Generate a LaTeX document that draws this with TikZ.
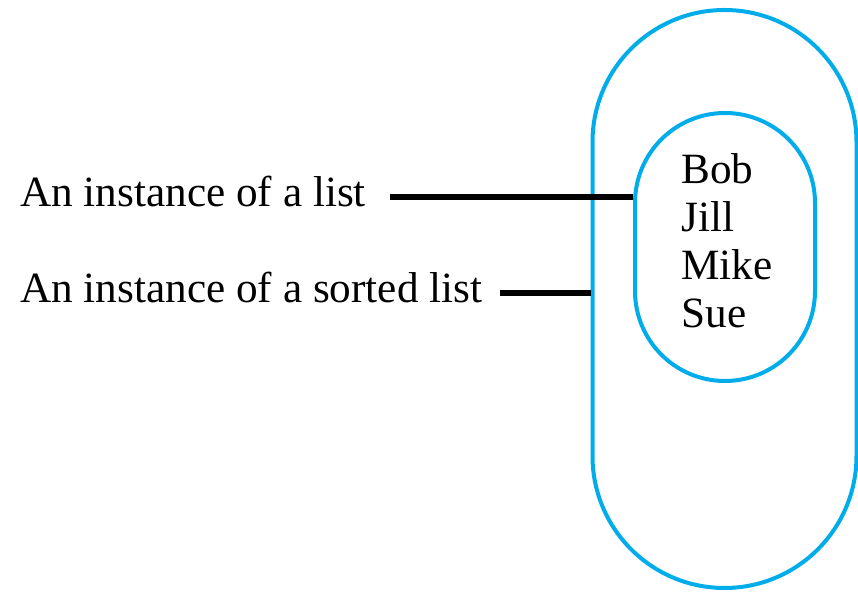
\documentclass[tikz,border=0pt]{standalone}
\usepackage{fontspec}
\setmainfont{Liberation Serif}
\definecolor{setblue}{RGB}{0,172,234}
\begin{document}
\begin{tikzpicture}[x=0.5pt,y=-0.5pt]
      \tikzstyle{blob}=[draw=setblue,line width=2pt,rectangle,inner sep=0pt]
      \tikzstyle{lead}=[draw,line width=2.6pt]
      \tikzstyle{label}=[anchor=base west,inner sep=0pt,font=\fontsize{21.6}{24}\selectfont]
      \useasboundingbox (0,0) rectangle (858,592);
      \node[blob,rounded corners=66pt,minimum width=132pt,minimum height=289pt] (sorted) at (724.5,299) {};
      \node[blob,rounded corners=45pt,minimum width=90pt,minimum height=134pt] (list) at (725,247) {};
      \node[label] (names) at (681,184) {\begin{tabular}[t]{@{}l@{}}Bob\\Jill\\Mike\\Sue\end{tabular}};
      \node[label] (lst) at (20,207) {An instance of a list};
      \node[label] (srt) at (20,303) {An instance of a sorted list};
      \path[lead] ([shift={(12pt,5pt)}]lst.base east) -- ([yshift=5pt]list.west |- lst.base);
      \path[lead] ([shift={(8.5pt,5pt)}]srt.base east) -- ([yshift=5pt]sorted.west |- srt.base);
    \end{tikzpicture}
\end{document}
